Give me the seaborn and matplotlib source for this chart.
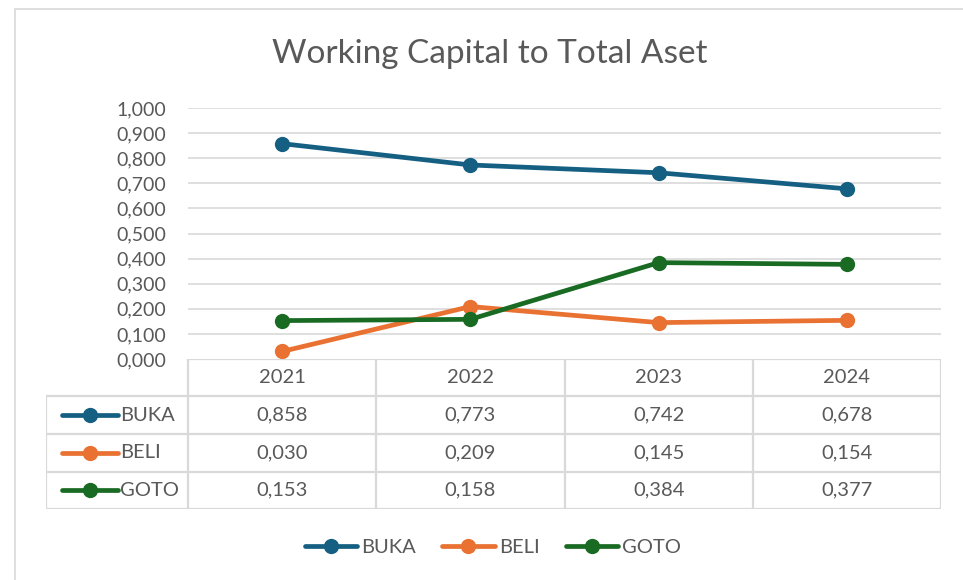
import matplotlib
matplotlib.use('Agg')
import matplotlib.pyplot as plt
import seaborn as sns
import pandas as pd
from matplotlib.lines import Line2D

# data
years = ['2021', '2022', '2023', '2024']
buka = [0.858, 0.773, 0.742, 0.678]
beli = [0.030, 0.209, 0.145, 0.154]
goto = [0.153, 0.158, 0.384, 0.377]
series = ['BUKA', 'BELI', 'GOTO']
colors = ['#156082', '#E97132', '#196B24']
y_ticks = [i / 10 for i in range(11)]

df = pd.DataFrame({'Year': years * 3,
                   'Value': buka + beli + goto,
                   'Series': [s for s in series for _ in years]})
df['pos'] = df['Year'].map({y: i for i, y in enumerate(years)})

sns.set_style('white')
plt.rcParams['font.family'] = ['Lato', 'DejaVu Sans']
txt = '#595959'
grid = '#D9D9D9'

W, H = 963, 580
fig = plt.figure(figsize=(W / 100, H / 100), dpi=100)

def fx(px):
    return px / W

def fy(py):
    return 1 - py / H

# chart border
fig.add_artist(Line2D([fx(15), 1.0], [fy(9), fy(9)], color=grid, lw=1.2, transform=fig.transFigure))
fig.add_artist(Line2D([fx(15), fx(15)], [fy(9), 0], color=grid, lw=1.2, transform=fig.transFigure))

fig.text(fx(490), fy(54), 'Working Capital to Total Aset', ha='center', va='center',
         fontsize=24, color=txt)

# main line plot
ax = fig.add_axes([fx(188), fy(359), fx(941) - fx(188), fy(108) - fy(359)])
sns.lineplot(data=df, x='pos', y='Value', hue='Series', palette=colors, hue_order=series,
             marker='o', markersize=11, markeredgewidth=0, linewidth=3.4,
             legend=False, ax=ax, sort=False)
for l in ax.lines:
    l.set_clip_on(False)
ax.set_xlim(-0.5, len(years) - 0.5)
ax.set_ylim(0, 1.0)
ax.set_yticks(y_ticks)
ax.set_yticklabels([f'{v:.3f}'.replace('.', ',') for v in y_ticks], color=txt, fontsize=14)
ax.tick_params(axis='y', length=0, pad=16)
ax.set_xticks([])
ax.set_xlabel('')
ax.set_ylabel('')
for v in y_ticks[1:]:
    ax.axhline(v, color=grid, lw=1.2, zorder=0)
for s in ax.spines.values():
    s.set_visible(False)

# data table underneath
tx0 = -0.5 - (188 - 46) / ((941 - 188) / len(years))
tab = fig.add_axes([fx(46), fy(509), fx(941) - fx(46), fy(359) - fy(509)])
tab.set_xlim(tx0, len(years) - 0.5)
tab.set_ylim(4, 0)
tab.axis('off')
for i in range(len(years) + 1):
    tab.plot([i - 0.5, i - 0.5], [0, 4], color=grid, lw=1.6)
tab.plot([tx0, tx0], [1, 4], color=grid, lw=1.6)
tab.plot([-0.5, len(years) - 0.5], [0, 0], color=grid, lw=1.6)
for r in range(1, 5):
    tab.plot([tx0, len(years) - 0.5], [r, r], color=grid, lw=1.6)
for i, y in enumerate(years):
    tab.text(i, 0.5, y, ha='center', va='center', fontsize=14.5, color=txt)
key_w = (118 - 62) / ((941 - 188) / len(years))
kx0 = tx0 + (62 - 46) / ((941 - 188) / len(years))
for r, (name, vals, c) in enumerate(zip(series, [buka, beli, goto], colors), start=1):
    tab.plot([kx0, kx0 + key_w], [r + 0.5, r + 0.5], color=c, lw=3.4, solid_capstyle='round')
    tab.plot([kx0 + key_w / 2], [r + 0.5], 'o', color=c, markersize=11, markeredgewidth=0)
    tab.text(kx0 + key_w + 0.01, r + 0.5, name, ha='left', va='center', fontsize=14.5, color=txt)
    for i, v in enumerate(vals):
        tab.text(i, r + 0.5, f'{v:.3f}'.replace('.', ','), ha='center', va='center',
                 fontsize=14.5, color=txt)

# bottom legend
handles = [Line2D([0], [0], color=c, lw=3.4, marker='o', markersize=11, markeredgewidth=0,
                  solid_capstyle='round') for c in colors]
leg = fig.legend(handles, series, loc='center', bbox_to_anchor=(fx(493), fy(547)), ncol=3,
                 frameon=False, fontsize=14.5, handlelength=2.6, columnspacing=1.3,
                 handletextpad=0.2)
for t in leg.get_texts():
    t.set_color(txt)

fig.savefig('out.png', dpi=100)
